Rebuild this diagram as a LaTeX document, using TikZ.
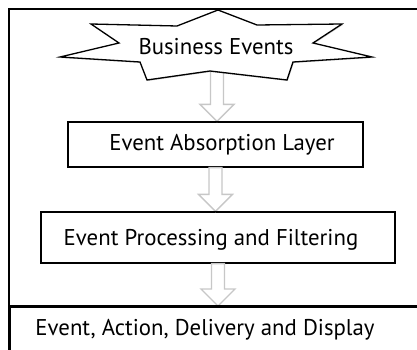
\documentclass[tikz,border=0pt]{standalone}
\usepackage{fontspec}
\setmainfont{PT Sans}
\usetikzlibrary{calc,shadows}

\tikzset{
  frameline/.style={line width=1.8pt, draw=black},
  layerbox/.style={draw=black, line width=1.3pt, fill=white, rectangle,
    inner sep=0pt,
    drop shadow={shadow xshift=0.8pt, shadow yshift=-1.2pt, opacity=0.35, fill=black!60}},
  layertext/.style={font=\fontsize{22.8}{26}\selectfont, inner sep=0pt},
  blockarrow/.style={draw=black!22, line width=1.4pt, fill=white, line join=miter},
  burst/.style={draw=black, line width=1.3pt, fill=white, line join=miter,
    drop shadow={shadow xshift=0.8pt, shadow yshift=-1pt, opacity=0.3, fill=black!60}}
}

% hollow block arrow from the x of #1 down to the y of #2
\newcommand{\hollowarrow}[2]{%
  \draw[blockarrow] let \p1=(#1), \p2=(#2) in
    (\x1-6.5pt,\y1) -- (\x1-6.5pt,\y2+17pt) -- (\x1-17pt,\y2+17pt) --
    (\x1,\y2) -- (\x1+17pt,\y2+17pt) -- (\x1+6.5pt,\y2+17pt) --
    (\x1+6.5pt,\y1) -- cycle;}

\begin{document}
\begin{tikzpicture}[x=1pt, y=-1pt]
  \useasboundingbox (0,0) rectangle (417,350);

  % outer frame (runs past the right and bottom edges)
  \draw[frameline] (9,9) rectangle (430,360);

  % anchor points for the arrows
  \coordinate (sb) at (217,71);

  % layer boxes
  \node[layerbox, minimum width=295pt, minimum height=45pt] (eal) at (215.5,144.5) {};
  \node[layertext] (ealt) at (222,145) {Event Absorption Layer};

  \node[layerbox, minimum width=354pt, minimum height=51pt] (epf) at (218,237.5) {};
  \node[layertext] (epft) at (211,240) {Event Processing and Filtering};

  \node[draw=black, line width=1.5pt, fill=white, rectangle, anchor=north west,
        minimum width=430pt, minimum height=60pt, inner sep=0pt] (eadbox) at (9,306) {};
  \node[layertext] (ead) at (205,330) {Event, Action, Delivery and Display};

  % connecting block arrows
  \hollowarrow{sb}{eal.north}
  \hollowarrow{eal.south}{epf.north}
  \hollowarrow{epf.south}{eadbox.north}

  % redraw box borders over arrow ends
  \draw[black, line width=1.3pt] (eal.north west) -- (eal.north east);
  \draw[black, line width=1.3pt] (epf.north west) -- (epf.north east);
  \draw[black, line width=1.5pt] (eadbox.north west) -- (eadbox.north east);

  % business events burst
  \draw[burst] (218,10) -- (257,25) -- (342,24) -- (313,43) -- (372,57) --
    (293,62) -- (287,80) -- (210,71) -- (147,80) -- (140,62) -- (60,57) --
    (119,43) -- (91,24) -- (177,26) -- cycle;
  \node[layertext] (be) at (216,47) {Business Events};
\end{tikzpicture}
\end{document}
